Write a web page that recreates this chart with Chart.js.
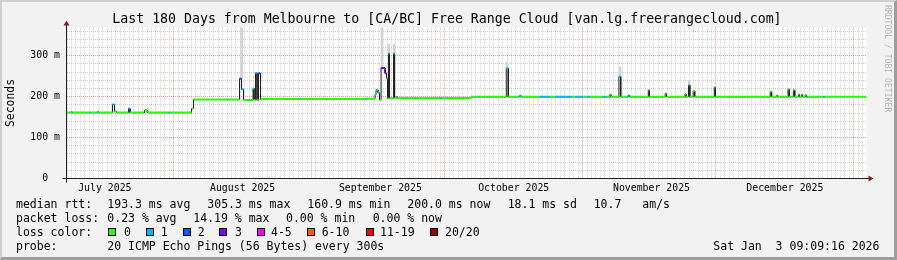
<!DOCTYPE html>
<html>
<head>
<meta charset="utf-8">
<script src="https://cdn.jsdelivr.net/npm/chart.js@4.4.1/dist/chart.umd.min.js"></script>
<style>
  html, body { margin: 0; padding: 0; background: #f2f2f2; }
  #frame { position: absolute; left: 0; top: 0; width: 897px; height: 260px; box-sizing: border-box;
           background: #f2f2f2; border-left: 2px solid #cfcfcf; border-top: 2px solid #cfcfcf;
           border-right: 3px solid #9e9e9e; border-bottom: 3px solid #9e9e9e; }
  #c { position: absolute; left: 0; top: 0; }
  .t { position: absolute; white-space: pre; font-family: 'DejaVu Sans Mono', monospace; color: #000; }
  #title { font-size: 13.24px; line-height: 14px; left: 112.3px; top: 11.9px; }
  .lg { font-size: 11.5px; line-height: 14px; }
  .box { position: absolute; width: 8px; height: 8px; box-sizing: border-box; border: 1px solid #000; top: 227.5px; }
  #wm { font-size: 8.1px; line-height: 8px; color: #b4b4b4; writing-mode: vertical-rl; left: 883.8px; top: 5px; }
</style>
</head>
<body>
<div id="frame"></div>
<canvas id="c" width="897" height="260"></canvas>

<div id="title" class="t">Last 180 Days from Melbourne to [CA/BC] Free Range Cloud [van.lg.freerangecloud.com]</div>
<div id="wm" class="t">RRDTOOL / TOBI OETIKER</div>
<div id="legend"></div>

<script>
// x values are days since the start of the window (Jul 7 2025 09:09)
const windowDays = 180;
const firstMidnight = 0.62;   // Jul 8 00:00, daily grid from here
const monthStartDay = [24.62, 55.62, 85.62, 116.62, 146.62, 177.62];
const monthLabelDay = [8.62, 39.62, 70.62, 100.62, 131.62, 161.62];
const monthLabels = ['July 2025', 'August 2025', 'September 2025', 'October 2025', 'November 2025', 'December 2025'];

const yMaxMs = 369;
const yStepMs = 20;
const yMajorMs = [0, 100, 200, 300];
const yMajorLabels = ['0  ', '100 m', '200 m', '300 m'];

// median rtt, one entry per level (start day, ms, pings lost of 20)
const medDay = [0.00, 1.01, 1.35, 5.06, 5.51, 6.86, 7.31, 10.35, 10.80, 11.25, 13.95, 14.29, 17.44, 17.66, 18.11, 18.34,
  22.95, 23.29, 28.13, 28.58, 36.12, 36.45, 38.93, 39.38, 39.83, 41.97, 42.19, 42.53, 42.87, 43.20, 43.65,
  52.54, 52.88, 67.39, 67.73, 69.42, 69.64, 70.09, 70.43, 70.77, 71.67, 72.01, 72.23, 72.46, 72.68, 73.58, 73.81,
  74.26, 74.48, 78.42, 78.76, 84.05, 84.39, 91.02, 92.60, 92.90, 98.95, 99.40, 101.90, 102.30,
  106.50, 108.80, 109.90, 113.70, 114.40, 116.20, 117.10, 117.80, 120.70, 121.50, 122.25, 122.50,
  124.30, 124.70, 126.10, 126.40, 126.70, 130.90, 131.15, 134.70, 135.00, 139.15, 139.40, 139.95, 140.25,
  141.00, 141.35, 145.75, 146.00, 158.35, 158.65, 159.80, 160.00, 162.35, 162.60, 163.55, 163.85,
  164.70, 164.90, 165.40, 165.60, 166.20, 166.45, 166.75, 170.30, 170.60];
const medMs = [161, 162, 161, 161, 161, 162, 161, 181, 164, 161, 171, 161, 164, 167, 164, 161,
  161, 161, 171, 193, 193, 193, 244, 218, 192, 220, 192, 258, 192, 257, 194,
  194, 194, 195, 195, 205, 216, 210, 192, 270, 257, 245, 196, 305, 196, 305, 197,
  200, 196.5, 196.5, 196.5, 196.5, 196.5, 199.5, 199.5, 199.5, 269, 199.5, 202, 199.5,
  199.5, 199.5, 199.5, 199.5, 199.5, 199.5, 199.5, 199.5, 199.5, 199.5, 205, 199.5,
  249, 199.5, 199.5, 203, 199.5, 216, 199.5, 208, 199.5, 206, 199.5, 228, 199.5,
  214, 199.5, 223, 199.5, 212, 199.5, 203, 199.5, 218, 199.5, 216, 199.5,
  205, 199.5, 205, 199.5, 204, 199.5, 199.5, 199.5, 200];
const medLoss = [0, 1, 0, 1, 0, 1, 0, 1, 0, 0, 1, 0, 0, 0, 0, 0,
  1, 0, 0, 0, 1, 0, 2, 1, 0, 1, 0, 1, 0, 2, 0,
  1, 0, 1, 0, 1, 1, 0, 0, 3, 3, 0, 0, 1, 0, 1, 0,
  0, 0, 1, 0, 1, 0, 0, 1, 0, 1, 0, 1, 0,
  1, 0, 1, 0, 1, 0, 1, 0, 1, 0, 0, 0,
  1, 0, 1, 1, 0, 0, 0, 0, 0, 0, 0, 1, 0,
  0, 0, 0, 0, 0, 0, 0, 0, 0, 0, 0, 0,
  0, 0, 0, 0, 0, 1, 0, 1, 0];

// visible smoke above the spikes
const smokeDay = [39.4, 71.0, 72.5, 73.7, 99.1, 124.55, 140.1];
const smokeLo = [244, 270, 305, 305, 269, 249, 228];
const smokeHi = [369, 369, 328, 328, 285, 273, 240];

const lossSteps = ['0', '1', '2', '3', '4-5', '6-10', '11-19', '20/20'];
const lossColours = ['#26ff00', '#00b8ff', '#0059ff', '#7e00ff', '#ff00ff', '#ff5500', '#ff0000', '#a10000'];

function lossColour(n) {
  if (n <= 3) return lossColours[n];
  if (n <= 5) return lossColours[4];
  if (n <= 10) return lossColours[5];
  if (n <= 19) return lossColours[6];
  return lossColours[7];
}

// stair-step points: horizontal part coloured by loss, vertical joins left to the dark line
const medPts = [], medCol = [];
medDay.forEach((d, i) => {
  const next = i + 1 < medDay.length ? medDay[i + 1] : windowDays;
  medPts.push({ x: d, y: medMs[i] }, { x: next, y: medMs[i] });
  medCol.push(lossColour(medLoss[i]), 'rgba(0,0,0,0)');
});

const near = (v, list) => list.findIndex(m => Math.abs(m - v) < 0.05);
const minorGrid = 'rgba(150,150,150,0.45)';
const majorGrid = 'rgba(222,79,79,0.55)';
const axisFont = { family: 'DejaVu Sans Mono', size: 9.85 };

const canvasBg = {
  id: 'canvasBg',
  beforeDraw(chart) {
    const { ctx, chartArea: a } = chart;
    ctx.save();
    ctx.fillStyle = '#ffffff';
    ctx.fillRect(a.left, a.top, a.right - a.left, a.bottom - a.top);
    ctx.restore();
  }
};

// rrdtool style axis overhang and arrows
const axisArrows = {
  id: 'axisArrows',
  afterDraw(chart) {
    const { ctx, chartArea: a } = chart;
    const x0 = Math.round(a.left - 0.5) + 0.5, y0 = Math.round(a.bottom - 0.5) + 0.5;
    ctx.save();
    ctx.strokeStyle = '#1f1f1f'; ctx.lineWidth = 1;
    ctx.beginPath();
    ctx.moveTo(x0 - 4, y0); ctx.lineTo(a.right + 4, y0);
    ctx.moveTo(x0, y0 + 4); ctx.lineTo(x0, a.top - 4);
    ctx.stroke();
    ctx.fillStyle = '#801f1f';
    ctx.beginPath();
    ctx.moveTo(a.right + 2, y0 - 3); ctx.lineTo(a.right + 2, y0 + 3); ctx.lineTo(a.right + 7, y0); ctx.closePath();
    ctx.moveTo(x0 - 3, a.top - 2); ctx.lineTo(x0 + 3, a.top - 2); ctx.lineTo(x0, a.top - 7); ctx.closePath();
    ctx.fill();
    ctx.restore();
  }
};

// legend block below the graph
const legendRows = [
  { top: 197, parts: [[16, 'median rtt:'], [107.3, '193.3 ms avg'], [207.3, '305.3 ms max'], [307.3, '160.9 ms min'],
      [407.3, '200.0 ms now'], [507.7, '18.1 ms sd'], [593.7, '10.7'], [642.3, 'am/s']] },
  { top: 211, parts: [[16, 'packet loss:'], [107.3, '0.23 % avg'], [193.3, '14.19 % max'], [286, '0.00 % min'], [372.7, '0.00 % now']] },
  { top: 225, parts: [[16, 'loss color:']] },
  { top: 239, parts: [[16, 'probe:'], [107.3, '20 ICMP Echo Pings (56 Bytes) every 300s'], [713.3, 'Sat Jan  3 09:09:16 2026']] }
];
const lossBoxX = [108.3, 145.7, 182.7, 219.3, 256.7, 307.3, 366, 430];
const lossLabelX = [124, 160.7, 197.7, 235, 271, 321.7, 380, 445];

const legend = document.getElementById('legend');
function addText(x, top, txt) {
  const el = document.createElement('div');
  el.className = 't lg';
  el.style.left = x + 'px'; el.style.top = top + 'px';
  el.textContent = txt;
  legend.appendChild(el);
}
legendRows.forEach(r => r.parts.forEach(p => addText(p[0], r.top, p[1])));
lossSteps.forEach((s, i) => {
  const b = document.createElement('div');
  b.className = 'box';
  b.style.left = lossBoxX[i] + 'px';
  b.style.background = lossColours[i];
  legend.appendChild(b);
  addText(lossLabelX[i], 225, s);
});

new Chart(document.getElementById('c'), {
  type: 'line',
  data: {
    datasets: [
      {
        type: 'bar', label: 'smoke', order: 3,
        data: smokeDay.map((d, i) => ({ x: d, y: [smokeLo[i], smokeHi[i]] })),
        backgroundColor: '#d2d2d2', barThickness: 2
      },
      {
        label: 'median', order: 2, data: medPts,
        borderColor: '#202020', borderWidth: 1, pointRadius: 0
      },
      {
        label: 'median by loss', order: 1, data: medPts,
        borderColor: lossColours[0], borderWidth: 2, pointRadius: 0,
        segment: { borderColor: c => medCol[c.p0DataIndex] }
      }
    ]
  },
  options: {
    responsive: false, animation: false, devicePixelRatio: 1,
    layout: { padding: { left: 0, top: 27.5, right: 30.5, bottom: 61.5 } },
    plugins: { legend: { display: false }, tooltip: { enabled: false } },
    scales: {
      x: {
        type: 'linear', min: 0, max: windowDays, offset: false,
        afterBuildTicks: s => {
          const t = [];
          for (let v = firstMidnight; v < windowDays; v += 1) t.push({ value: v });
          s.ticks = t;
        },
        afterFit: s => { s.height = 20; },
        grid: {
          drawTicks: false, lineWidth: 1,
          color: c => (c.tick && near(c.tick.value, monthStartDay) >= 0) ? majorGrid : minorGrid
        },
        border: { color: '#1f1f1f', dash: [1, 1] },
        ticks: {
          autoSkip: false, maxRotation: 0, minRotation: 0, padding: 4, color: '#000', font: axisFont,
          callback: v => { const i = near(v, monthLabelDay); return i >= 0 ? monthLabels[i] : ''; }
        }
      },
      y: {
        min: 0, max: yMaxMs,
        afterBuildTicks: s => {
          const t = [];
          for (let v = 0; v <= yMaxMs; v += yStepMs) t.push({ value: v });
          s.ticks = t;
        },
        afterFit: s => { s.width = 66.5; },
        grid: {
          drawTicks: false, lineWidth: 1,
          color: c => (c.tick && yMajorMs.includes(c.tick.value)) ? majorGrid : minorGrid
        },
        border: { color: '#1f1f1f', dash: [1, 1] },
        ticks: {
          autoSkip: false, padding: 6.5, color: '#000', font: axisFont,
          callback: v => { const i = yMajorMs.indexOf(v); return i >= 0 ? yMajorLabels[i] : ''; }
        },
        title: { display: true, text: 'Seconds', color: '#000', font: { family: 'DejaVu Sans Mono', size: 11.4 }, padding: { top: 4, bottom: 0 } }
      }
    }
  },
  plugins: [canvasBg, axisArrows]
});
</script>
</body>
</html>
